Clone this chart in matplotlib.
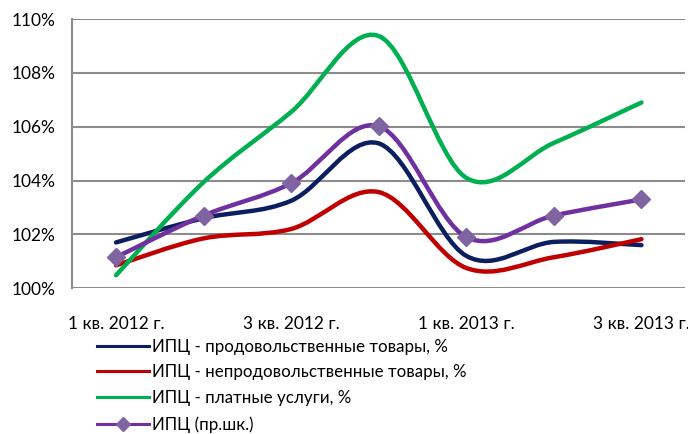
import matplotlib as mpl
mpl.use('Agg')
import matplotlib.pyplot as plt
from matplotlib.path import Path
from matplotlib.patches import PathPatch
from matplotlib.lines import Line2D
import numpy as np

plt.rcParams['font.family'] = ['Lato', 'DejaVu Sans']

quarters = ['1 кв. 2012 г.', '2 кв. 2012 г.', '3 кв. 2012 г.', '4 кв. 2012 г.',
            '1 кв. 2013 г.', '2 кв. 2013 г.', '3 кв. 2013 г.']
food = [101.7, 102.6, 103.25, 105.38, 101.2, 101.72, 101.6]
nonfood = [100.85, 101.85, 102.2, 103.57, 100.75, 101.15, 101.82]
services = [100.48, 103.94, 106.55, 109.37, 104.1, 105.4, 106.9]
cpi = [101.15, 102.7, 103.9, 106.02, 101.9, 102.7, 103.3]

labels = ['ИПЦ - продовольственные товары, %',
          'ИПЦ - непродовольственные товары, %',
          'ИПЦ - платные услуги, %',
          'ИПЦ (пр.шк.)']
colors = ['#0b1f5f', '#c00000', '#00b050', '#7030a0']
marker_color = '#8064a2'


def smooth_path(x, y):
    # Catmull-Rom style bezier, like the "smoothed line" option in Excel
    n = len(x)
    verts = [(x[0], y[0])]
    codes = [Path.MOVETO]
    for i in range(n - 1):
        a = max(i - 1, 0)
        b = min(i + 2, n - 1)
        c1 = (x[i] + (x[i + 1] - x[a]) / 6.0, y[i] + (y[i + 1] - y[a]) / 6.0)
        c2 = (x[i + 1] - (x[b] - x[i]) / 6.0, y[i + 1] - (y[b] - y[i]) / 6.0)
        verts += [c1, c2, (x[i + 1], y[i + 1])]
        codes += [Path.CURVE4] * 3
    return Path(verts, codes)


fig = plt.figure(figsize=(6.88, 4.34), dpi=100)
ax = fig.add_axes([0.105, 0.336, 0.891, 0.62])

xs = np.arange(len(quarters))
for k, series in enumerate([food, nonfood, services, cpi]):
    patch = PathPatch(smooth_path(xs, series), facecolor='none',
                      edgecolor=colors[k], lw=3.2, capstyle='round',
                      zorder=3 + k)
    ax.add_patch(patch)
ax.plot(xs, cpi, linestyle='none', marker='D', markersize=9,
        color=marker_color, zorder=8)

ax.set_xlim(-0.5, len(quarters) - 0.5)
ax.set_ylim(100, 110)
ax.set_yticks(np.arange(100, 111, 2))
ax.set_yticklabels(['%d%%' % v for v in range(100, 111, 2)])
ax.set_xticks(xs)
ax.set_xticklabels([q if i % 2 == 0 else '' for i, q in enumerate(quarters)])
ax.tick_params(axis='both', length=0, labelsize=12.5, colors='black')
ax.tick_params(axis='x', pad=20)
ax.tick_params(axis='y', pad=12)

ax.grid(axis='y', color='#8c8c8c', lw=1.5)
ax.set_axisbelow(True)
for s in ['top', 'right', 'bottom']:
    ax.spines[s].set_visible(False)
ax.spines['left'].set_color('#8c8c8c')
ax.spines['left'].set_linewidth(1.5)

handles = [Line2D([], [], color=colors[0], lw=2.2),
           Line2D([], [], color=colors[1], lw=2.2),
           Line2D([], [], color=colors[2], lw=2.2),
           Line2D([], [], color=colors[3], lw=2.2, marker='D',
                  markersize=7.5, markerfacecolor=marker_color,
                  markeredgecolor=marker_color)]
fig.legend(handles, labels, loc='upper left', bbox_to_anchor=(0.141, 0.22),
           frameon=False, fontsize=12.2, handlelength=3.05, handletextpad=0.2,
           labelspacing=0.58, borderpad=0, borderaxespad=0)

fig.savefig('out.png', dpi=100)
